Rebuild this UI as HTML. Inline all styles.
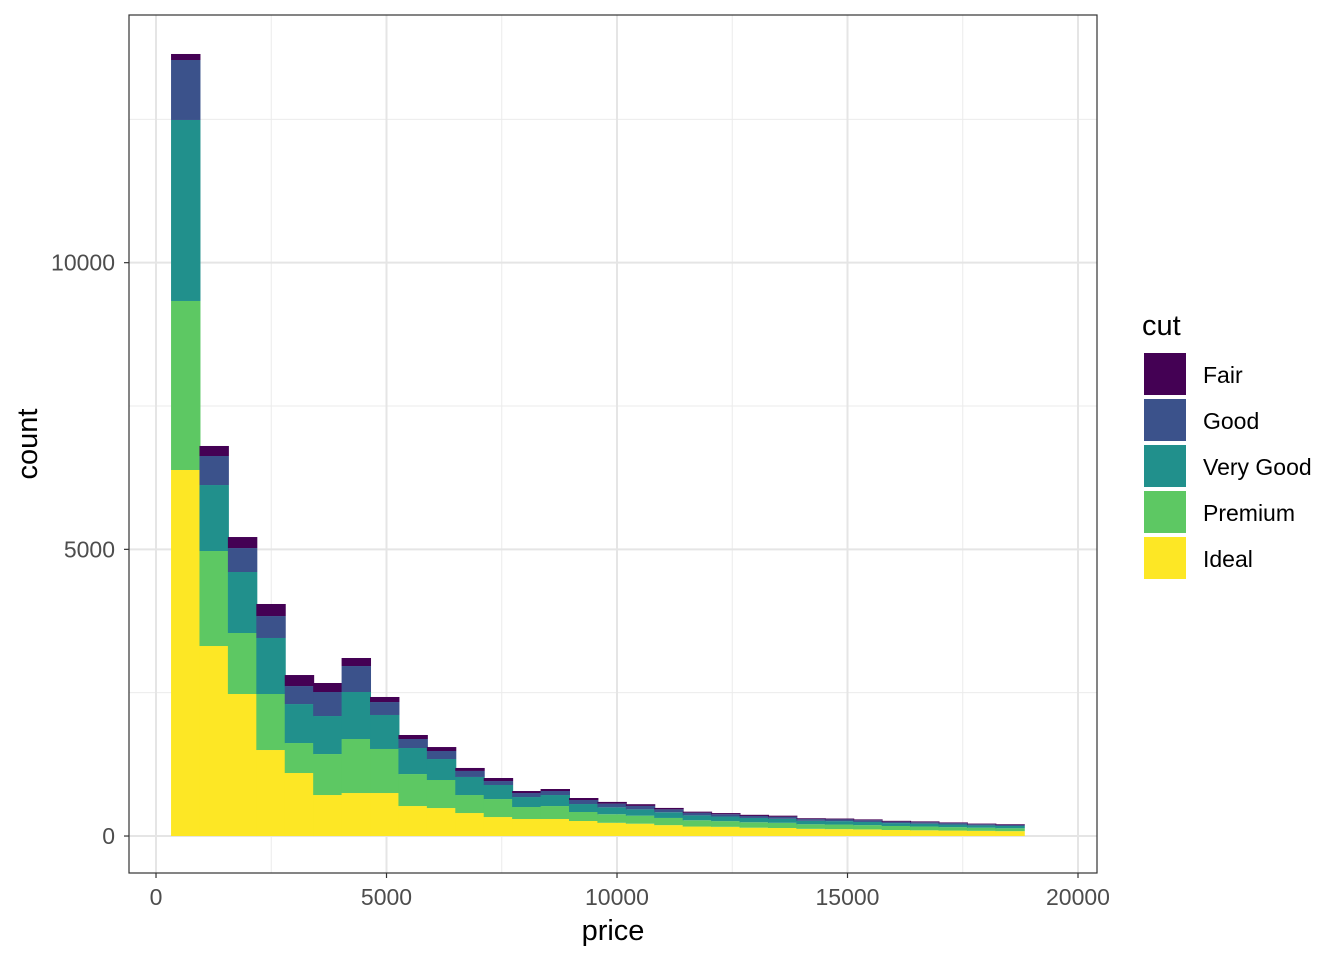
<!DOCTYPE html>
<html><head><meta charset="utf-8"><style>
body{margin:0;background:#fff;font-family:"Liberation Sans",Arial,sans-serif}
svg text{font-family:"Liberation Sans",Arial,sans-serif}
</style></head><body>
<svg id="chart" width="1344" height="960"></svg>
<script>
const cuts=["Fair","Good","Very Good","Premium","Ideal"];
const colors=["#440154","#3B528B","#21908C","#5DC863","#FDE725"];
const binStart=326, binWidth=616.6;
const ideal=[6384,3314,2477,1500,1099,715,750,750,523,488,401,331,297,297,262,230,215,190,165,160,145,140,125,120,115,105,100,95,90,85];
const premium=[2948,1657,1064,977,523,715,942,768,558,489,314,314,209,226,157,150,140,125,110,100,95,90,80,80,75,70,65,60,55,50];
const veryGood=[3157,1151,1064,977,680,663,820,593,454,366,315,245,174,192,139,120,110,100,85,80,75,70,60,60,55,50,50,45,40,40];
const good=[1046,506,418,383,314,419,453,226,157,140,105,69,70,70,70,65,60,50,45,40,35,35,30,30,30,25,25,25,20,20];
const fair=[105,175,192,210,192,157,140,88,70,69,52,53,35,35,35,30,30,25,20,20,20,20,15,15,15,15,15,12,12,12];
const xTicks=[0,5000,10000,15000,20000];
const yTicks=[0,5000,10000];
const L=129,R=1097,T=15,B=873;
const xmin=-586,xmax=20412,ymin=-645,ymax=14320;
const sx=v=>L+(v-xmin)/(xmax-xmin)*(R-L);
const sy=v=>B-(v-ymin)/(ymax-ymin)*(B-T);
const svg=document.getElementById('chart');
const NS="http://www.w3.org/2000/svg";
function mk(tag,attrs,parent){const e=document.createElementNS(NS,tag);for(const k in attrs)e.setAttribute(k,attrs[k]);(parent||svg).appendChild(e);return e;}
for(let v=2500;v<20000;v+=5000){const g=mk('line',{x1:sx(v),x2:sx(v),y1:T,y2:B,stroke:'#ebebeb','stroke-width':1});

}
for(let v=2500;v<14000;v+=5000){const g=mk('line',{x1:L,x2:R,y1:sy(v),y2:sy(v),stroke:'#ebebeb','stroke-width':1});

}
xTicks.forEach(v=>{const g=mk('line',{x1:sx(v),x2:sx(v),y1:T,y2:B,stroke:'#e5e5e5','stroke-width':2});

});
yTicks.forEach(v=>{const g=mk('line',{x1:L,x2:R,y1:sy(v),y2:sy(v),stroke:'#e5e5e5','stroke-width':2});

});
const series=[ideal,premium,veryGood,good,fair];
const sColors=[colors[4],colors[3],colors[2],colors[1],colors[0]];
const sNames=["ideal","premium","very-good","good","fair"];
for(let i=0;i<ideal.length;i++){
  let base=0;
  const x0=sx(binStart+i*binWidth),x1=sx(binStart+(i+1)*binWidth);
  series.forEach((s,k)=>{
    const r=mk('rect',{x:x0,y:sy(base+s[i]),width:x1-x0+1,height:sy(base)-sy(base+s[i]),fill:sColors[k]});
    
    
    base+=s[i];
  });
}
const bd=mk('rect',{x:L,y:T,width:R-L,height:B-T,fill:'none',stroke:'#333','stroke-width':1.2});


xTicks.forEach(v=>{
  const t=mk('line',{x1:sx(v),x2:sx(v),y1:B,y2:B+5,stroke:'#333','stroke-width':1.2});
  
  
  const l=mk('text',{x:sx(v),y:B+32,'text-anchor':'middle','font-size':23,fill:'#4d4d4d'});
  l.textContent=v;
  
  
});
yTicks.forEach(v=>{
  const t=mk('line',{x1:L-5,x2:L,y1:sy(v),y2:sy(v),stroke:'#333','stroke-width':1.2});
  
  
  const l=mk('text',{x:L-14,y:sy(v)+8,'text-anchor':'end','font-size':23,fill:'#4d4d4d'});
  l.textContent=v;
  
  
});
const xt=mk('text',{x:(L+R)/2,y:940,'text-anchor':'middle','font-size':29,fill:'#000'});
xt.textContent='price';


const yt=mk('text',{x:0,y:0,'text-anchor':'middle','font-size':29,fill:'#000',transform:'translate(37,444) rotate(-90)'});
yt.textContent='count';


const lt=mk('text',{x:1142,y:335,'font-size':29,fill:'#000'});
lt.textContent='cut';


cuts.forEach((c,i)=>{
  const y=353+i*46;
  const r=mk('rect',{x:1144,y:y,width:42,height:42,fill:colors[i]});
  
  
  const t=mk('text',{x:1203,y:y+30,'font-size':23,fill:'#000'});
  t.textContent=c;
  
  
});
</script>
</body></html>
